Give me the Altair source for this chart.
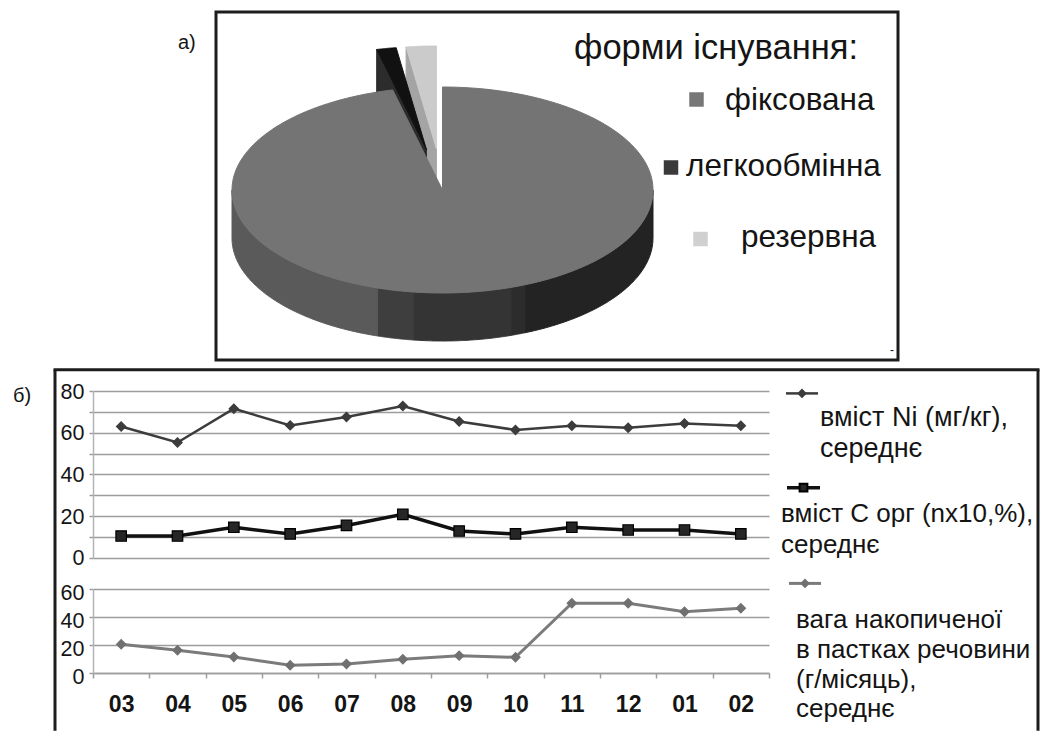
import altair as alt
import pandas as pd

# ---------------- data ----------------
months = ["03", "04", "05", "06", "07", "08", "09", "10", "11", "12", "01", "02"]
ni_values = [63.0, 55.3, 71.5, 63.5, 67.5, 72.8, 65.4, 61.3, 63.3, 62.4, 64.4, 63.3]
corg_values = [10.4, 10.4, 14.6, 11.4, 15.5, 20.8, 12.8, 11.4, 14.6, 13.3, 13.3, 11.4]
weight_values = [20.5, 16.2, 11.4, 5.5, 6.4, 9.8, 12.4, 11.2, 49.8, 49.8, 43.8, 46.2]
series_names = ["вміст Ni (мг/кг), середнє",
                "вміст С орг (nx10,%), середнє",
                "вага накопиченої в пастках речовини (г/місяць), середнє"]
legend_lines = [["вміст Ni (мг/кг),", "середнє"],
                ["вміст С орг (nx10,%),", "середнє"],
                ["вага накопиченої", "в пастках речовини", "(г/місяць),", "середнє"]]
upper_ticks = [0, 10, 20, 30, 40, 50, 60, 70, 80]
lower_ticks = [0, 20, 40, 60]

pie_title = "форми існування:"
pie_labels = ["фіксована", "легкообмінна", "резервна"]
pie_values = [96.2, 1.5, 2.3]

panel_labels = ["а)", "б)"]

# ---------------- styles ----------------
FONT = "Liberation Sans"
GRID = "#9c9c9c"
DOMAIN = "#b4b4b4"
TXT = "#141414"
top_colors = {"фіксована": "#747474", "легкообмінна": "#111111", "резервна": "#cbcbcb"}
edge_colors = {"фіксована": "#5a5a5a", "легкообмінна": "#2c2c2c", "резервна": "#a4a4a4"}
legend_colors = ["#777777", "#3a3a3a", "#d0d0d0"]
side_bands = [(90, 157, "#232323"), (157, 161, "#2c2c2c"), (161, 188, "#343434"),
              (188, 198, "#3e3e3e"), (198, 270, "#5a5a5a")]
CX, CY, RA, RB, TH, EXPL = 441.5, 189.0, 210.5, 103.0, 48.0, 0.4
N = 180
NS = 90

one = pd.DataFrame({"k": [0]})


def txt(text, x, y, size, weight="normal", align="left"):
    return alt.Chart(one).mark_text(text=text, align=align, baseline="middle", font=FONT,
                                    fontSize=size, fontWeight=weight, color=TXT).encode(
        x=alt.value(x), y=alt.value(y))


# ---------------- pie (3D look) ----------------
pie_df = pd.DataFrame({"label": pie_labels, "value": pie_values,
                       "order": list(range(len(pie_labels)))})

PX = alt.X("x:Q", scale=alt.Scale(domain=[92, 897], nice=False, zero=False), axis=None)
PY = alt.Y("y:Q", scale=alt.Scale(domain=[11, 358.3], nice=False, zero=False, reverse=True), axis=None)


def with_angles(ch, groupby=None):
    kw = {"groupby": groupby} if groupby else {}
    ch = ch.transform_joinaggregate(total="sum(value)", **kw)
    ch = ch.transform_window(cum="sum(value)", sort=[alt.SortField("order")], **kw)
    ch = ch.transform_calculate(a0="2*PI*(datum.cum - datum.value)/datum.total")
    ch = ch.transform_calculate(a1="2*PI*datum.cum/datum.total")
    ch = ch.transform_calculate(mid="(datum.a0 + datum.a1)/2")
    ch = ch.transform_calculate(ex=f"datum.order == 0 ? 0 : {EXPL}")
    ch = ch.transform_calculate(ox=f"datum.ex * {RA} * sin(datum.mid)")
    ch = ch.transform_calculate(oy=f"-datum.ex * {RB} * cos(datum.mid)")
    return ch


def poly(ch):
    return ch.mark_line(filled=True, interpolate="linear-closed", strokeWidth=1).encode(
        x=PX, y=PY,
        color=alt.Color("shade:N", scale=None, legend=None),
        stroke=alt.Stroke("shade:N", scale=None, legend=None),
        detail="key:N",
        order=alt.Order("step:Q"),
    )


top_df = pie_df.assign(shade=[top_colors[l] for l in pie_labels],
                       steps=[list(range(N + 1)) for _ in pie_labels])
edge_df = pie_df.assign(shade=[edge_colors[l] for l in pie_labels],
                        steps=[[0, 1, 2, 3] for _ in pie_labels])
bands_df = pd.DataFrame(side_bands, columns=["lo", "hi", "shade"])
bands_df["band"] = list(range(len(bands_df)))
side_df = pie_df.merge(bands_df, how="cross")
side_df["steps"] = [list(range(2 * NS + 2)) for _ in range(len(side_df))]


def top_layer(lab):
    ch = with_angles(alt.Chart(top_df)).transform_filter(alt.datum.label == lab)
    ch = ch.transform_flatten(["steps"], as_=["step"])
    ch = ch.transform_calculate(t=f"datum.a0 + (datum.a1 - datum.a0) * (datum.step - 1) / {N - 1}")
    ch = ch.transform_calculate(x=f"{CX} + datum.ox + (datum.step == 0 ? 0 : {RA} * sin(datum.t))")
    ch = ch.transform_calculate(y=f"{CY} + datum.oy + (datum.step == 0 ? 0 : -{RB} * cos(datum.t))")
    ch = ch.transform_calculate(key="datum.label")
    return poly(ch)


def edge_layer(lab):
    ch = with_angles(alt.Chart(edge_df)).transform_filter(alt.datum.label == lab)
    ch = ch.transform_flatten(["steps"], as_=["step"])
    ch = ch.transform_calculate(
        x=f"{CX} + datum.ox + ((datum.step == 1 || datum.step == 2) ? {RA} * sin(datum.a0) : 0)")
    ch = ch.transform_calculate(
        y=f"{CY} + datum.oy + ((datum.step == 1 || datum.step == 2) ? -{RB} * cos(datum.a0) : 0) + (datum.step >= 2 ? {TH} : 0)")
    ch = ch.transform_calculate(key="datum.label")
    return poly(ch)


def side_layer():
    ch = with_angles(alt.Chart(side_df), groupby=["band"])
    ch = ch.transform_calculate(c0="max(datum.a0, datum.lo * PI / 180)")
    ch = ch.transform_calculate(c1="min(datum.a1, datum.hi * PI / 180)")
    ch = ch.transform_filter("datum.c1 > datum.c0")
    ch = ch.transform_flatten(["steps"], as_=["step"])
    ch = ch.transform_calculate(
        t=f"datum.step <= {NS} ? datum.c0 + (datum.c1 - datum.c0) * datum.step / {NS} : datum.c1 - (datum.c1 - datum.c0) * (datum.step - {NS} - 1) / {NS}")
    ch = ch.transform_calculate(x=f"{CX} + datum.ox + {RA} * sin(datum.t)")
    ch = ch.transform_calculate(y=f"{CY} + datum.oy - {RB} * cos(datum.t) + (datum.step > {NS} ? {TH} : 0)")
    ch = ch.transform_calculate(key="datum.label + '_' + datum.band")
    return poly(ch)


pie_layers = []
for lab in [pie_labels[2], pie_labels[1]]:
    pie_layers.append(edge_layer(lab))
    pie_layers.append(top_layer(lab))
pie_layers.append(side_layer())
pie_layers.append(top_layer(pie_labels[0]))

# pie frame
pie_layers.append(alt.Chart(one).mark_rect(fillOpacity=0, stroke="#1c1c1c", strokeWidth=3).encode(
    x=alt.value(123), x2=alt.value(805), y=alt.value(0), y2=alt.value(348)))
# pie legend
pie_layers.append(txt(pie_title, 481, 37, 34.5))
leg_pos = [(603.5, 87.5, 632, 89), (578, 155.5, 593, 155), (607.5, 227, 648, 226)]
for (sx, sy, tx, ty), lab, col in zip(leg_pos, pie_labels, legend_colors):
    pie_layers.append(alt.Chart(one).mark_square(size=210, color=col, opacity=1).encode(
        x=alt.value(sx), y=alt.value(sy)))
    pie_layers.append(txt(lab, tx, ty, 31.5))
pie_layers.append(txt("-", 797, 338, 12))
pie_layers.append(txt(panel_labels[0], 85, 31, 20))

pie = alt.layer(*pie_layers).properties(width=805, height=347.3)

# ---------------- line panels ----------------
long_df = pd.DataFrame({
    "month": months * 3,
    "series": [series_names[0]] * 12 + [series_names[1]] * 12 + [series_names[2]] * 12,
    "value": ni_values + corg_values + weight_values,
})

XS = alt.Scale(type="band", domain=months, paddingInner=0, paddingOuter=0)
X_up = alt.X("month:N", scale=XS, axis=None)
X_lo = alt.X("month:N", scale=XS, axis=alt.Axis(
    title=None, tickBand="extent", labelAngle=0, labelFont=FONT, labelFontWeight="bold",
    labelFontSize=23, labelColor=TXT, labelPadding=15, tickSize=5, tickColor=GRID, tickWidth=1.5,
    domainColor=GRID, domainWidth=1.5, grid=False))

Y_up = alt.Y("value:Q", scale=alt.Scale(domain=[0, 80], nice=False), axis=alt.Axis(
    title=None, values=upper_ticks, labelExpr="datum.value % 20 == 0 ? datum.label : ''",
    grid=True, gridColor=GRID, gridWidth=1.5, tickColor=GRID, tickSize=4, tickWidth=1.5,
    domainColor=DOMAIN, domainWidth=1.5, labelFont=FONT, labelFontSize=21.5, labelColor=TXT,
    labelPadding=5, labelOffset=1))
Y_lo = alt.Y("value:Q", scale=alt.Scale(domain=[0, 60], nice=False), axis=alt.Axis(
    title=None, values=lower_ticks,
    grid=True, gridColor=GRID, gridWidth=1.5, tickColor=GRID, tickSize=4, tickWidth=1.5,
    domainColor=DOMAIN, domainWidth=1.5, labelFont=FONT, labelFontSize=21.5, labelColor=TXT,
    labelPadding=5, labelOffset=4))

styles = [
    dict(color="#3c3c3c", width=2.5, shape="diamond", size=85, fill="#3c3c3c", stroke="#3c3c3c"),
    dict(color="#111111", width=3.5, shape="square", size=110, fill="#262626", stroke="#000000"),
    dict(color="#7b7b7b", width=3.0, shape="diamond", size=85, fill="#707070", stroke="#707070"),
]


def series(i, X, Y):
    st = styles[i]
    base = alt.Chart(long_df).transform_filter(alt.datum.series == series_names[i])
    line = base.mark_line(color=st["color"], strokeWidth=st["width"]).encode(x=X, y=Y)
    pts = base.mark_point(shape=st["shape"], size=st["size"], filled=True, color=st["fill"],
                          stroke=st["stroke"], strokeWidth=1.2, opacity=1).encode(x=X, y=Y)
    return [line, pts]


up_layers = series(0, X_up, Y_up) + series(1, X_up, Y_up)

# frame of panel b (relative to upper plot origin)
up_layers.append(alt.Chart(one).mark_rule(color="#1c1c1c", strokeWidth=3).encode(
    x=alt.value(-38), y=alt.value(-21.3), y2=alt.value(339.7)))
up_layers.append(alt.Chart(one).mark_rule(color="#1c1c1c", strokeWidth=3).encode(
    x=alt.value(-39.5), x2=alt.value(946.5), y=alt.value(-21.3)))
up_layers.append(alt.Chart(one).mark_rule(color="#1c1c1c", strokeWidth=3).encode(
    x=alt.value(945), y=alt.value(-21.3), y2=alt.value(339.7)))
up_layers.append(txt(panel_labels[1], -80, 4.7, 20))

# custom legend (symbol line above wrapped text, Excel-like)
leg_sym = [(693, 725, 2.4), (694, 727, 96.7), (696, 728, 192.4)]
leg_txt = [(727, [27.4, 57.7]), (688, [122.7, 153.7]), (703, [228.7, 258.7, 288.7, 317.7])]
leg_size = [27, 26, 26]
for i in range(3):
    st = styles[i]
    x1, x2, yy = leg_sym[i]
    up_layers.append(alt.Chart(one).mark_rule(color=st["color"], strokeWidth=st["width"]).encode(
        x=alt.value(x1), x2=alt.value(x2), y=alt.value(yy)))
    up_layers.append(alt.Chart(one).mark_point(shape=st["shape"], size=st["size"] * 0.55, filled=True,
                                                color=st["fill"], stroke=st["stroke"], opacity=1).encode(
        x=alt.value((x1 + x2) / 2), y=alt.value(yy)))
    tx, ys = leg_txt[i]
    for line_text, ty in zip(legend_lines[i], ys):
        up_layers.append(txt(line_text, tx, ty, leg_size[i]))

upper = alt.layer(*up_layers).properties(width=676, height=166.7)
lower = alt.layer(*series(2, X_lo, Y_lo)).properties(width=676, height=84)

chart = alt.vconcat(pie, upper, lower, spacing=31, bounds="flush").properties(
    padding={"left": 4, "top": 2, "right": 4, "bottom": 0}
).configure(font=FONT).configure_view(stroke="transparent")

chart.save("out.html", embed_options={"renderer": "svg", "actions": False})
